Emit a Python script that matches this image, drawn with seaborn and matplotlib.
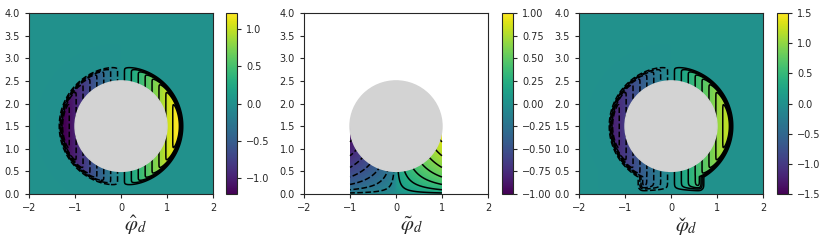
import numpy as np
import matplotlib
matplotlib.use('Agg')
import matplotlib.pyplot as plt
import seaborn as sns
from matplotlib.patches import Circle
from matplotlib.colors import Normalize

# domain and obstacle
x_range = [-2.0, 2.0]
y_range = [0.0, 4.0]
circle_center = [0.0, 1.5]
circle_radius = 1.0

# shape of the support of each field
ring_outer = 1.3          # outer radius of the band around the disk
ring_edge = 0.03          # sharpness of that outer edge
lobe_half_width = 0.66    # lower lobe of the third field
lobe_bottom = 0.12
lobe_edge = 0.05
channel_half_width = 1.0  # second field lives in [-1, 1] x [0, 1.5]
channel_top = 1.5

# colour limits
color_limits = [1.21, 1.0, 1.5]

# contour levels
levels_hat = [-1.125, -0.975, -0.825, -0.675, -0.525, -0.375, -0.225, -0.075,
              0.075, 0.225, 0.375, 0.525, 0.675, 0.825, 0.975, 1.125]
levels_tilde = [-0.875, -0.75, -0.625, -0.5, -0.375, -0.25, -0.125,
                0.125, 0.25, 0.375, 0.5, 0.625, 0.75, 0.875]
levels_check = levels_hat
contour_levels = [levels_hat, levels_tilde, levels_check]

# panel labels; the third one gets its caron drawn separately
labels = [r'$\hat{\varphi}_d$', r'$\tilde{\varphi}_d$', r'$\varphi_d$']
caron = '\u02c7'

x_ticks = [-2, -1, 0, 1, 2]
y_ticks = [0.0, 0.5, 1.0, 1.5, 2.0, 2.5, 3.0, 3.5, 4.0]


def step(z):
    return 0.5 * (1.0 + np.tanh(z))


def build_fields(n=700):
    x = np.linspace(x_range[0], x_range[1], n)
    y = np.linspace(y_range[0], y_range[1], n)
    X, Y = np.meshgrid(x, y)
    R = np.hypot(X - circle_center[0], Y - circle_center[1])

    m_ring = step((ring_outer - R) / ring_edge)
    f_hat = X * m_ring

    inside = (np.abs(X) <= channel_half_width) & (Y <= channel_top)
    f_tilde = np.sign(X) * np.sqrt(np.abs(X) * Y / channel_top)
    f_tilde = np.ma.masked_where(~inside, f_tilde)

    m_box = (step((lobe_half_width - np.abs(X)) / lobe_edge)
             * step((Y - lobe_bottom) / lobe_edge) * (Y < circle_center[1]))
    f_check = X * np.maximum(m_ring, m_box)
    return X, Y, [f_hat, f_tilde, f_check]


sns.set_style('ticks')
plt.rcParams['font.family'] = ['DejaVu Sans']
plt.rcParams['mathtext.fontset'] = 'stix'
plt.rcParams['xtick.labelsize'] = 7
plt.rcParams['ytick.labelsize'] = 7
plt.rcParams['xtick.major.size'] = 3
plt.rcParams['ytick.major.size'] = 3
plt.rcParams['axes.linewidth'] = 0.8

cmap = sns.color_palette('viridis', as_cmap=True)

X, Y, fields = build_fields()

fig = plt.figure(figsize=(8.23, 2.47), dpi=100)
W, H = 823.0, 247.0
ax_lefts = [29, 304, 579]
cb_lefts = [226, 502, 777]
ax_w = 184
cb_w = 11
top_px, bottom_px = 13, 194
label_base = 231

for i in range(3):
    ax = fig.add_axes([ax_lefts[i] / W, 1 - bottom_px / H, ax_w / W, (bottom_px - top_px) / H])
    cax = fig.add_axes([cb_lefts[i] / W, 1 - bottom_px / H, cb_w / W, (bottom_px - top_px) / H])
    lim = color_limits[i]
    norm = Normalize(vmin=-lim, vmax=lim)
    mesh = ax.pcolormesh(X, Y, fields[i], cmap=cmap, norm=norm, shading='auto',
                         rasterized=True)
    ax.contour(X, Y, fields[i], levels=contour_levels[i], colors='k', linewidths=1.1)
    ax.add_patch(Circle(tuple(circle_center), circle_radius, color='lightgray', zorder=5))
    ax.set_xlim(x_range)
    ax.set_ylim(y_range)
    ax.set_xticks(x_ticks)
    ax.set_yticks(y_ticks)
    cb = fig.colorbar(mesh, cax=cax)
    cb.ax.tick_params(labelsize=7, length=3)
    cb.outline.set_linewidth(0.8)
    label_x = (ax_lefts[i] + cb_lefts[i] + cb_w) / 2 + 3
    fig.text(label_x / W, 1 - label_base / H, labels[i], fontsize=15,
             ha='center', va='baseline')
    if i == 2:
        # caron above the phi, drawn on its own so it sits over the glyph
        fig.text((label_x - 4) / W, 1 - (label_base + 1) / H, caron, fontsize=15,
                 family='STIXGeneral', ha='center', va='baseline')

fig.savefig('out.png', dpi=100)
